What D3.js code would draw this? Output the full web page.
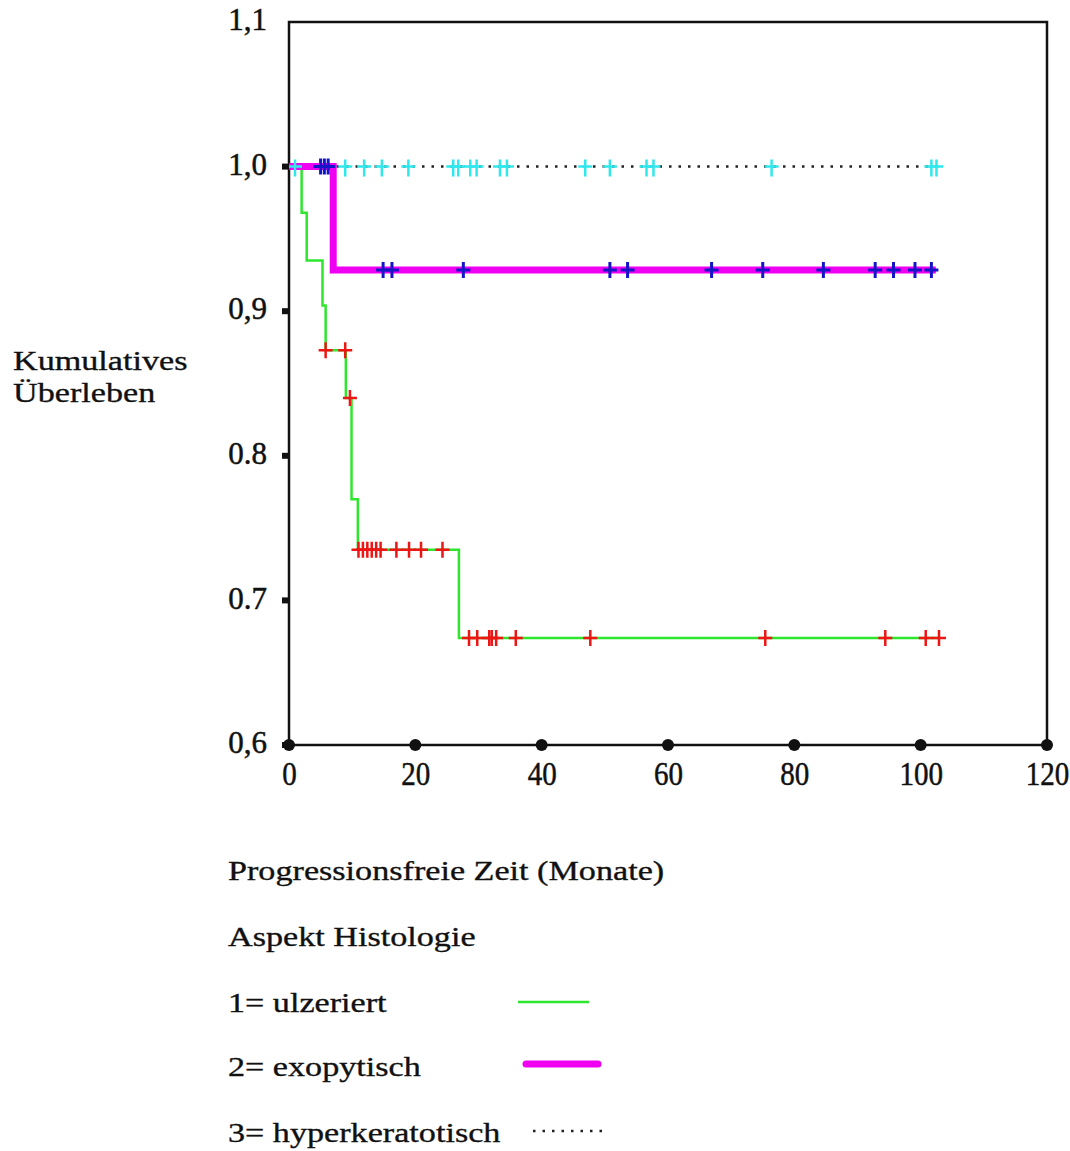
<!DOCTYPE html>
<html>
<head>
<meta charset="utf-8">
<script src="https://cdn.jsdelivr.net/npm/d3@7"></script>
<style>
	body { margin: 0; background: #fff; }
	text { font-family: "Liberation Serif", "Times New Roman", serif; fill: #111; }
</style>
</head>
<body>
<div class="chart"></div>
<script>

// values

const xTicks = [0, 20, 40, 60, 80, 100, 120]
const yTicks = [0.6, 0.7, 0.8, 0.9, 1.0, 1.1]
const yTickLabels = ["0,6", "0.7", "0.8", "0,9", "1,0", "1,1"]
const yTickMarks = [0.6, 0.7, 0.8, 0.9, 1.0]

const groupNames = ["1= ulzeriert", "2= exopytisch", "3= hyperkeratotisch"]

// 1 = ulzeriert
const ulzTimes = [0, 2.0, 2.8, 5.3, 5.8, 9.0, 9.9, 10.9, 26.9, 102.9]
const ulzSurv = [1.0, 0.968, 0.935, 0.904, 0.873, 0.840, 0.770, 0.735, 0.674, 0.674]
const ulzCensored = [5.8, 8.9, 9.65, 11.0, 11.7, 12.4, 13.1, 13.8, 14.5, 17.0, 19.0, 20.9, 24.3,
	28.5, 29.8, 31.7, 32.1, 32.8, 35.9, 47.7, 75.4, 94.4, 100.8, 102.9]

// 2 = exopytisch
const exoTimes = [0, 7.0, 102.4]
const exoSurv = [1.0, 0.9285, 0.9285]
const exoCensored = [5.0, 5.6, 6.2, 14.9, 16.3, 27.6, 50.8, 53.6, 66.9, 75.0, 84.6, 92.8, 95.7, 99.1, 101.7]

// 3 = hyperkeratotisch
const hypTimes = [0, 102.5]
const hypSurv = [1.0, 1.0]
const hypCensored = [0.95, 8.9, 11.9, 14.7, 18.9, 26.0, 26.8, 28.7, 29.7, 33.4, 34.5,
	46.9, 50.8, 56.6, 57.7, 76.4, 101.7, 102.5]

const svgWidth = 1070
const svgHeight = 1151

let plot = { left: 289, right: 1047, top: 22, bottom: 745 }

let svg = d3.select(".chart")
	.append("svg")
	.attr("width", svgWidth)
	.attr("height", svgHeight)

let x = d3.scaleLinear().domain([0, 120]).range([plot.left, plot.right])
let y = d3.scaleLinear().domain([0.6, 1.1]).range([plot.bottom, plot.top])

// survival value of a step curve at time t
function stepAt(times, surv, t) {
	let i = d3.bisectRight(times, t) - 1
	return surv[Math.max(0, i)]
}

let line = d3.line()
	.x(d => x(d[0]))
	.y(d => y(d[1]))
	.curve(d3.curveStepAfter)

// frame
svg.append("rect")
	.attr("x", plot.left)
	.attr("y", plot.top)
	.attr("width", plot.right - plot.left)
	.attr("height", plot.bottom - plot.top)
	.attr("fill", "none")
	.attr("stroke", "#111")
	.attr("stroke-width", 2.5)

// group 3 dotted line
svg.append("path")
	.datum(d3.zip(hypTimes, hypSurv))
	.attr("d", line)
	.attr("fill", "none")
	.attr("stroke", "#222")
	.attr("stroke-width", 2.5)
	.attr("stroke-dasharray", "2.5 7")

// group 1 green
svg.append("path")
	.datum(d3.zip(ulzTimes, ulzSurv))
	.attr("d", line)
	.attr("fill", "none")
	.attr("stroke", "#2ee62e")
	.attr("stroke-width", 2.5)

// group 2 magenta
svg.append("path")
	.datum(d3.zip(exoTimes, exoSurv))
	.attr("d", line)
	.attr("fill", "none")
	.attr("stroke", "#f000f0")
	.attr("stroke-width", 7)

function drawCensors(times, surv, pts, color, up, down, sw) {
	let g = svg.append("g")
	pts.forEach(t => {
		let cx = x(t)
		let cy = y(stepAt(times, surv, t))
		g.append("path")
			.attr("d", `M${cx - 7},${cy}H${cx + 7}M${cx},${cy - up}V${cy + down}`)
			.attr("stroke", color)
			.attr("stroke-width", sw)
			.attr("fill", "none")
	})
}

drawCensors(hypTimes, hypSurv, hypCensored, "#30e8ec", 7, 10, 2.5)
drawCensors(ulzTimes, ulzSurv, ulzCensored, "#ee1515", 8, 8, 2.5)
drawCensors(exoTimes, exoSurv, exoCensored, "#1515c8", 8, 8, 3)

// y axis labels and tick squares
let leftAxis = d3.axisLeft(y)
	.tickValues(yTicks)
	.tickSize(0)
	.tickPadding(22)
	.tickFormat((d, i) => yTickLabels[i])

let yAxisG = svg.append("g")
	.attr("transform", `translate(${plot.left}, 0)`)
	.call(leftAxis)
yAxisG.select(".domain").remove()
yAxisG.selectAll("text")
	.attr("dy", "0.25em")
	.style("font-size", "31px")
	.style("font-family", "Liberation Serif, serif")
	.attr("fill", "#111")
	.attr("stroke", "#111")
	.attr("stroke-width", 0.5)

svg.append("g")
	.selectAll("rect")
	.data(yTickMarks)
	.enter()
	.append("rect")
	.attr("x", plot.left - 7)
	.attr("y", d => y(d) - 3)
	.attr("width", 7)
	.attr("height", 6)
	.attr("fill", "#111")

// x axis labels and dots
let bottomAxis = d3.axisBottom(x)
	.tickValues(xTicks)
	.tickSize(0)
	.tickPadding(17)

let xAxisG = svg.append("g")
	.attr("transform", `translate(0, ${plot.bottom})`)
	.call(bottomAxis)
xAxisG.select(".domain").remove()
xAxisG.selectAll("text")
	.attr("transform", "scale(0.88,1)")
	.style("font-size", "33px")
	.style("font-family", "Liberation Serif, serif")
	.attr("fill", "#111")
	.attr("stroke", "#111")
	.attr("stroke-width", 0.5)

svg.append("g")
	.selectAll("circle")
	.data(xTicks)
	.enter()
	.append("circle")
	.attr("cx", d => x(d))
	.attr("cy", plot.bottom)
	.attr("r", 6)
	.attr("fill", "#111")

// y title
function wideText(tx, ty, str) {
	svg.append("text")
		.attr("transform", `translate(${tx}, ${ty}) scale(1.22,1)`)
		.style("font-size", "28px")
		.attr("stroke", "#111")
		.attr("stroke-width", 0.35)
		.text(str)
}

wideText(13, 370, "Kumulatives")
wideText(13, 402, "Überleben")

// x title and legend
wideText(228, 880, "Progressionsfreie Zeit (Monate)")
wideText(228, 946, "Aspekt Histologie")
wideText(228, 1012, groupNames[0])
wideText(228, 1076, groupNames[1])
wideText(228, 1142, groupNames[2])

svg.append("line")
	.attr("x1", 518).attr("x2", 589)
	.attr("y1", 1002).attr("y2", 1002)
	.attr("stroke", "#2ee62e")
	.attr("stroke-width", 2.5)

svg.append("line")
	.attr("x1", 526).attr("x2", 598)
	.attr("y1", 1064).attr("y2", 1064)
	.attr("stroke", "#f000f0")
	.attr("stroke-width", 7)
	.attr("stroke-linecap", "round")

svg.append("line")
	.attr("x1", 533).attr("x2", 602)
	.attr("y1", 1131).attr("y2", 1131)
	.attr("stroke", "#222")
	.attr("stroke-width", 2.5)
	.attr("stroke-dasharray", "2.5 7")

</script>
</body>
</html>
